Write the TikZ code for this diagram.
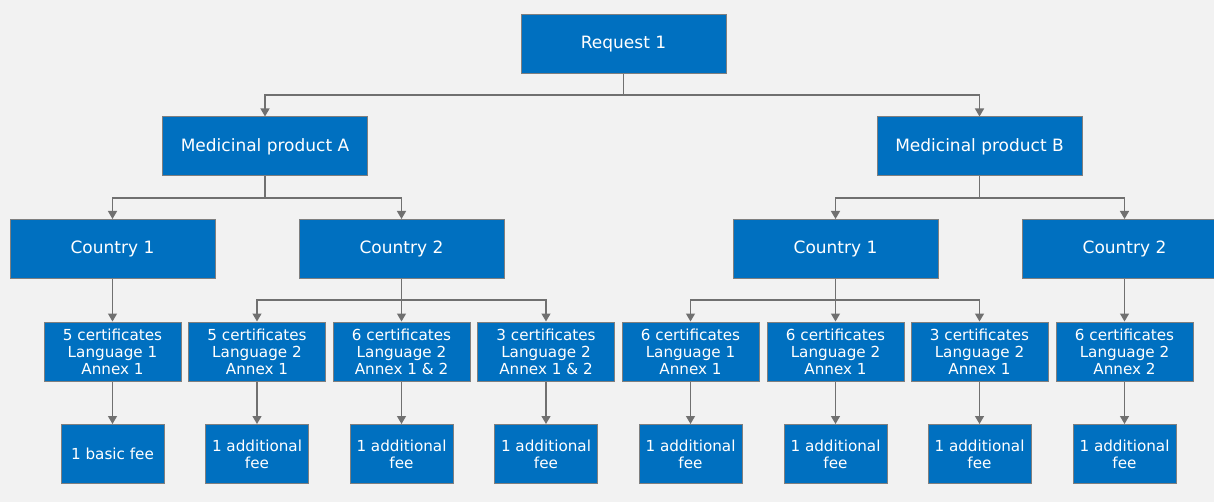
\documentclass[tikz,border=0pt]{standalone}
\usepackage{fontspec}
\setmainfont{DejaVu Sans}
\usetikzlibrary{arrows.meta}
\definecolor{bg}{HTML}{F2F2F2}
\definecolor{boxblue}{HTML}{0070C0}
\definecolor{edge}{HTML}{7F7F7F}
\definecolor{conn}{HTML}{707070}
\tikzset{
  box/.style={draw=edge, line width=1pt, fill=boxblue, text=white, align=center, inner sep=0pt, anchor=center},
  big/.style={box, minimum width=205pt, minimum height=59pt, font=\fontsize{17}{20}\selectfont},
  cert/.style={box, minimum width=137pt, minimum height=59pt, font=\fontsize{15.2}{17}\selectfont},
  fee/.style={box, minimum width=103pt, minimum height=59pt, font=\fontsize{15.2}{17}\selectfont},
  link/.style={draw=conn, line width=1.3pt, -{Triangle[length=8pt,width=9pt]}},
  plain/.style={draw=conn, line width=1.3pt}
}
\begin{document}
\begin{tikzpicture}[x=1pt,y=-1pt]
\fill[bg] (0,0) rectangle (1214,502);
\useasboundingbox (0,0) rectangle (1214,502);
% level 0
\node[big] (req) at (623.5,44) {Request 1};
% level 1
\node[big] (ma) at (265,146.5) {Medicinal product A};
\node[big] (mb) at (979.5,146.5) {Medicinal product B};
% level 2
\node[big] (ca1) at (112.5,249) {Country 1};
\node[big] (ca2) at (401.5,249) {Country 2};
\node[big] (cb1) at (835.5,249) {Country 1};
\node[big] (cb2) at (1124.5,249) {Country 2};
% level 3
\node[cert] (c1) at (112.5,351.5) {5 certificates\\Language 1\\Annex 1};
\node[cert] (c2) at (257,351.5) {5 certificates\\Language 2\\Annex 1};
\node[cert] (c3) at (401.5,351.5) {6 certificates\\Language 2\\Annex 1 \& 2};
\node[cert] (c4) at (546,351.5) {3 certificates\\Language 2\\Annex 1 \& 2};
\node[cert] (c5) at (690.5,351.5) {6 certificates\\Language 1\\Annex 1};
\node[cert] (c6) at (835.5,351.5) {6 certificates\\Language 2\\Annex 1};
\node[cert] (c7) at (979.5,351.5) {3 certificates\\Language 2\\Annex 1};
\node[cert] (c8) at (1124.5,351.5) {6 certificates\\Language 2\\Annex 2};
% level 4
\node[fee] (f1) at (112.5,454) {1 basic fee};
\node[fee] (f2) at (257,454) {1 additional\\fee};
\node[fee] (f3) at (401.5,454) {1 additional\\fee};
\node[fee] (f4) at (546,454) {1 additional\\fee};
\node[fee] (f5) at (690.5,454) {1 additional\\fee};
\node[fee] (f6) at (835.5,454) {1 additional\\fee};
\node[fee] (f7) at (979.5,454) {1 additional\\fee};
\node[fee] (f8) at (1124.5,454) {1 additional\\fee};
% connectors
\coordinate (j0) at (623.5,95);
\draw[plain] (req.south) -- (j0);
\draw[link] (j0) -| (ma.north);
\draw[link] (j0) -| (mb.north);
\coordinate (ja) at (265,198);
\coordinate (jb) at (979.5,198);
\draw[plain] (ma.south) -- (ja);
\draw[link] (ja) -| (ca1.north);
\draw[link] (ja) -| (ca2.north);
\draw[plain] (mb.south) -- (jb);
\draw[link] (jb) -| (cb1.north);
\draw[link] (jb) -| (cb2.north);
\coordinate (jc) at (401.5,300);
\coordinate (jd) at (835.5,300);
\draw[link] (ca1.south) -- (c1.north);
\draw[link] (ca2.south) -- (c3.north);
\draw[link] (jc) -| (c2.north);
\draw[link] (jc) -| (c4.north);
\draw[link] (cb1.south) -- (c6.north);
\draw[link] (jd) -| (c5.north);
\draw[link] (jd) -| (c7.north);
\draw[link] (cb2.south) -- (c8.north);
\foreach \i in {1,...,8}{\draw[link] (c\i.south) -- (f\i.north);}
\end{tikzpicture}
\end{document}
